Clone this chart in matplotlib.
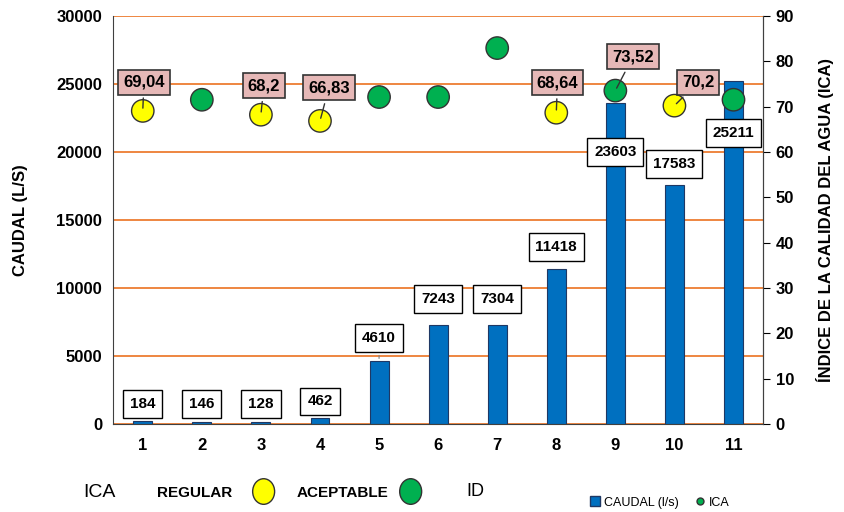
import numpy as np
import matplotlib.pyplot as plt
from matplotlib.patches import Ellipse

plt.rcParams['font.family'] = ['Liberation Sans Narrow', 'Liberation Sans', 'DejaVu Sans']

# Datos
puntos = [1, 2, 3, 4, 5, 6, 7, 8, 9, 10, 11]
caudal = [184, 146, 128, 462, 4610, 7243, 7304, 11418, 23603, 17583, 25211]
ica = [69.04, 71.5, 68.2, 66.83, 72.1, 72.1, 82.9, 68.64, 73.52, 70.2, 71.5]
clase = ['REGULAR', 'ACEPTABLE', 'REGULAR', 'REGULAR', 'ACEPTABLE', 'ACEPTABLE',
         'ACEPTABLE', 'REGULAR', 'ACEPTABLE', 'REGULAR', 'ACEPTABLE']
ica_etiquetas = {1: '69,04', 3: '68,2', 4: '66,83', 8: '68,64', 9: '73,52', 10: '70,2'}

azul = '#0070C0'
verde = '#00B050'
amarillo = '#FFFF00'
rosa = '#E6B8B7'
naranja = '#ED7D31'
colores = {'REGULAR': amarillo, 'ACEPTABLE': verde}

fig = plt.figure(figsize=(8.45, 5.12), dpi=100)
ax = fig.add_axes([0.134, 0.172, 0.769, 0.797])

ax.bar(puntos, caudal, width=0.32, color=azul, edgecolor='#1F3864', linewidth=0.8, zorder=2)
ax.set_xlim(0.5, 11.5)
ax.set_ylim(0, 30000)
ax.set_yticks(np.arange(0, 30001, 5000))
ax.set_xticks(puntos)
ax.set_axisbelow(True)
ax.yaxis.grid(True, color=naranja, linewidth=1.3)
ax.tick_params(axis='y', length=0, labelsize=12, pad=8)
ax.tick_params(axis='x', length=0, labelsize=12, pad=10)
for lab in ax.get_xticklabels() + ax.get_yticklabels():
    lab.set_fontweight('bold')
ax.spines['top'].set_visible(False)
ax.spines['left'].set_color('#404040')
ax.spines['bottom'].set_color('#404040')
ax.spines['right'].set_color('#404040')
ax.set_ylabel('CAUDAL (L/S)', fontsize=12, fontweight='bold', labelpad=20)

# etiquetas de caudal (posicion del recuadro en unidades de caudal)
pos_etq = [1450, 1450, 1450, 1650, 6300, 9200, 9200, 13000, 20000, 19100, 21400]
for x, v, yl in zip(puntos, caudal, pos_etq):
    ax.annotate(str(v), xy=(x, v), xytext=(x, yl), ha='center', va='center',
                fontsize=11, fontweight='bold', zorder=5,
                bbox=dict(boxstyle='square,pad=0.45', fc='white', ec='black', lw=1),
                arrowprops=dict(arrowstyle='-', color='#808080', lw=0.8) if x == 5 else None)

ax2 = ax.twinx()
ax2.set_ylim(0, 90)
ax2.set_yticks(np.arange(0, 91, 10))
ax2.tick_params(axis='y', length=5, labelsize=12, pad=4, color='black')
for lab in ax2.get_yticklabels():
    lab.set_fontweight('bold')
for s in ['top', 'left', 'bottom']:
    ax2.spines[s].set_visible(False)
ax2.spines['right'].set_color('#404040')
ax2.set_ylabel('ÍNDICE DE LA CALIDAD DEL AGUA (ICA)', fontsize=12, fontweight='bold', labelpad=16)

ax2.scatter(puntos, ica, s=260, c=[colores[c] for c in clase], edgecolors='#333333',
            linewidths=1, zorder=4)

# posicion de las etiquetas ICA
pos_ica = {1: (1.02, 75.4), 3: (3.05, 74.6), 4: (4.15, 74.1), 8: (8.02, 75.2),
           9: (9.3, 81.0), 10: (10.4, 75.4)}
for k, txt in ica_etiquetas.items():
    x, y = puntos[k - 1], ica[k - 1]
    ax2.annotate(txt, xy=(x, y), xytext=pos_ica[k], ha='center', va='center',
                 fontsize=12, fontweight='bold', zorder=6,
                 bbox=dict(boxstyle='square,pad=0.3', fc=rosa, ec='#333333', lw=1.2),
                 arrowprops=dict(arrowstyle='-', color='#333333', lw=1))

# leyenda inferior
fig.text(0.118, 0.038, 'ICA', fontsize=14, va='center', ha='center')
fig.text(0.23, 0.038, 'REGULAR', fontsize=11, fontweight='bold', va='center', ha='center')
fig.add_artist(Ellipse((0.312, 0.04), 0.026, 0.05, transform=fig.transFigure,
                       fc=amarillo, ec='#333333', lw=1))
fig.text(0.405, 0.038, 'ACEPTABLE', fontsize=11, fontweight='bold', va='center', ha='center')
fig.add_artist(Ellipse((0.486, 0.04), 0.026, 0.05, transform=fig.transFigure,
                       fc=verde, ec='#333333', lw=1))
fig.text(0.563, 0.04, 'ID', fontsize=13, va='center', ha='center')

h1 = plt.Line2D([], [], marker='s', ls='', color=azul, mec='#1F3864', ms=7)
h2 = plt.Line2D([], [], marker='o', ls='', color=verde, mec='#333333', ms=5)
fig.legend([h1, h2], ['CAUDAL (l/s)', 'ICA'], loc='center', bbox_to_anchor=(0.78, 0.018),
           ncol=2, frameon=False, fontsize=9, handletextpad=0.2, columnspacing=1.2,
           handlelength=1)

fig.savefig('out.png', dpi=100)
